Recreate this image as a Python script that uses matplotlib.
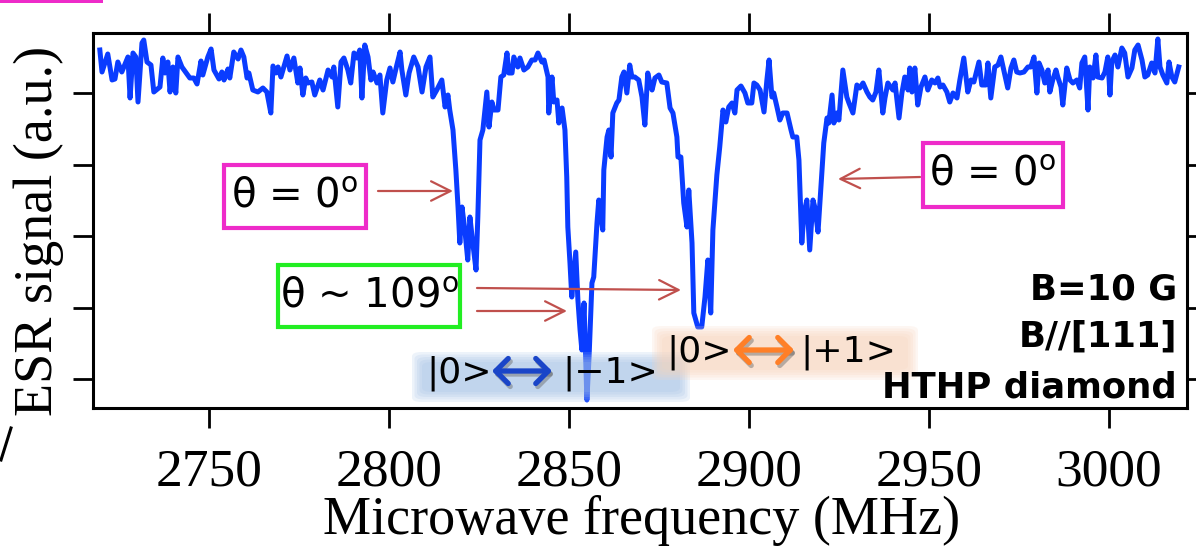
import matplotlib
matplotlib.use("Agg")
import matplotlib.pyplot as plt
from matplotlib.patches import Rectangle, FancyArrowPatch, FancyBboxPatch
from matplotlib.lines import Line2D

# ---------------- data ----------------
freq_mhz = [
    2719.7, 2720.3, 2721.9, 2723.1, 2723.9, 2724.7, 2725.8, 2727.5, 2728.1, 2728.9,
    2729.7, 2730.3, 2731.4, 2731.9, 2732.8, 2733.9, 2734.7, 2736.4, 2737.2, 2737.8,
    2738.6, 2739.2, 2740.0, 2740.8, 2741.4, 2742.5, 2744.7, 2745.8, 2746.7, 2747.8,
    2748.3, 2749.7, 2750.6, 2751.4, 2752.8, 2753.6, 2754.2, 2755.3, 2755.8, 2756.9,
    2758.1, 2758.9, 2759.7, 2760.6, 2761.1, 2762.2, 2763.6, 2765.0, 2766.1, 2767.2,
    2767.8, 2768.6, 2769.2, 2770.0, 2771.7, 2772.5, 2773.6, 2774.7, 2775.3, 2776.1,
    2776.9, 2777.5, 2778.6, 2779.4,
    2780.8, 2781.7, 2783.1, 2784.2, 2784.7, 2785.8, 2786.7, 2787.5, 2788.6, 2789.4,
    2790.3, 2791.1, 2791.9, 2792.5, 2793.3, 2794.2, 2795.0, 2795.6, 2796.7, 2797.5,
    2798.3, 2799.4, 2800.3, 2801.1, 2802.2, 2803.1, 2803.6, 2804.7, 2805.6, 2806.9,
    2808.1, 2809.2, 2810.3, 2811.4, 2812.2, 2813.3, 2814.7, 2815.6, 2816.4, 2816.9,
    2817.8, 2818.6, 2819.2, 2819.7, 2820.3, 2821.1, 2821.9, 2822.5, 2823.3, 2824.2,
    2824.7, 2825.3, 2826.1, 2827.2, 2827.8, 2828.6, 2829.2, 2830.3, 2831.1, 2831.9,
    2832.8, 2833.3, 2834.2, 2834.7, 2835.8, 2836.4, 2837.5, 2838.6, 2839.7,
    2840.6, 2841.4, 2842.5, 2843.1, 2844.2, 2844.4, 2845.3, 2845.8, 2846.7, 2847.2,
    2848.1, 2848.9, 2849.4, 2849.7, 2850.3, 2850.8, 2851.9, 2852.5, 2853.1, 2853.6,
    2854.2, 2855.0, 2855.6, 2856.4, 2856.9, 2857.8, 2858.3, 2859.4, 2859.7, 2860.6,
    2861.1, 2861.7, 2862.2, 2863.3, 2863.9, 2864.7, 2865.3, 2866.1, 2866.9, 2867.5,
    2868.3, 2869.4, 2870.3, 2871.1, 2871.9, 2872.5, 2873.1, 2873.9, 2875.0, 2875.8,
    2877.2, 2878.1, 2878.9, 2880.0, 2880.3, 2881.1, 2881.9, 2882.8, 2883.3, 2884.2,
    2884.7, 2885.8, 2886.9, 2887.8, 2888.6, 2889.4, 2890.0, 2891.1, 2891.9, 2892.8,
    2893.6, 2894.4, 2895.3, 2896.1, 2896.7, 2897.8, 2898.9, 2899.7, 2900.8, 2901.4,
    2902.2, 2903.1, 2904.2, 2905.0, 2905.6, 2906.4, 2906.9, 2907.8, 2908.6, 2909.4,
    2910.6, 2911.7, 2912.2, 2913.3, 2913.9, 2914.7, 2915.3, 2916.1, 2916.9, 2917.8,
    2918.3, 2919.2, 2920.0, 2920.8, 2921.7, 2922.2, 2923.1, 2923.6, 2924.4, 2925.0,
    2926.1, 2927.2, 2927.8, 2928.9, 2930.0, 2930.8, 2931.7, 2932.8, 2933.6, 2934.4,
    2935.3, 2936.1, 2937.2, 2937.8, 2938.6, 2940.0, 2940.6, 2941.7, 2942.5, 2943.3,
    2944.2, 2944.7, 2945.3, 2946.1, 2946.9, 2947.8, 2948.9, 2949.7, 2950.8, 2951.7,
    2952.5, 2953.1, 2953.9, 2955.0, 2955.8, 2956.7, 2957.8, 2958.6, 2959.7, 2960.8,
    2961.7, 2962.5,
    2963.9, 2964.7, 2965.8, 2966.4, 2967.2, 2968.3, 2969.2, 2970.0, 2970.8, 2971.9,
    2972.8, 2973.6, 2974.4, 2975.3, 2976.4, 2977.5, 2978.3, 2979.2, 2980.0, 2980.6,
    2981.4, 2982.2, 2983.1, 2983.6, 2984.4, 2985.3, 2985.8, 2986.7, 2987.2, 2988.3,
    2989.2, 2990.0, 2991.1, 2991.9, 2992.5, 2993.3, 2994.2, 2994.7, 2995.6, 2996.4,
    2996.9, 2998.1, 2998.9, 2999.7, 3000.3, 3000.8, 3001.7, 3002.5, 3003.6, 3004.4,
    3005.3, 3006.4, 3007.2, 3008.1, 3009.2, 3010.0, 3010.8, 3011.9, 3012.8, 3013.6,
    3014.2, 3015.0, 3016.1, 3016.7, 3017.5, 3018.3, 3019.4,
]

esr_signal = [
    36.0, 33.8, 35.6, 33.0, 33.1, 34.8, 33.8, 35.3, 31.2, 35.7,
    35.3, 30.8, 36.7, 37.0, 34.8, 34.5, 31.8, 32.3, 35.2, 33.7,
    34.8, 31.8, 34.3, 31.7, 35.3, 34.3, 33.2, 33.2, 32.6, 34.9,
    33.5, 35.3, 36.1, 34.0, 33.1, 33.8, 33.0, 34.1, 33.2, 35.8,
    35.1, 36.0, 35.3, 33.2, 33.7, 32.0, 31.8, 32.2, 31.8, 29.7,
    34.4, 33.7, 34.3, 33.3, 35.4, 34.0, 35.2, 32.7, 34.2, 31.5,
    33.2, 32.7, 32.8, 31.5,
    33.0, 32.0, 34.0, 33.3, 34.3, 30.3, 34.8, 35.2, 34.0, 32.7,
    35.7, 35.2, 36.0, 31.2, 36.5, 35.3, 33.0, 33.8, 32.7, 33.5,
    29.7, 33.0, 34.2, 32.8, 34.5, 35.8, 34.0, 31.5, 33.7, 35.3,
    34.3, 31.8, 34.3, 35.3, 31.3, 32.0, 33.0, 30.3, 31.5, 30.0,
    28.0, 24.0, 20.3, 16.7, 20.3, 18.0, 15.0, 19.3, 16.7, 14.0,
    19.3, 27.0, 28.0, 31.8, 28.3, 30.8, 30.0, 30.0, 33.3, 33.5,
    35.7, 33.7, 33.7, 35.3, 34.3, 35.2, 34.0, 34.3, 35.0,
    35.0, 35.7, 34.8, 35.0, 33.3, 29.7, 33.3, 30.8, 31.0, 28.7,
    30.2, 28.0, 23.3, 18.3, 14.7, 11.3, 15.8, 11.0, 8.0, 6.0,
    10.7, 1.0, 5.3, 12.7, 13.3, 18.7, 21.0, 18.0, 24.0, 27.3,
    28.0, 25.3, 29.7, 30.7, 31.0, 33.3, 33.8, 31.7, 34.5, 33.3,
    33.3, 33.0, 31.3, 28.5, 33.7, 32.7, 32.0, 33.2, 33.5, 32.8,
    32.7, 30.2, 29.7, 27.3, 25.3, 25.3, 20.7, 18.3, 22.0, 16.7,
    9.7, 8.3, 8.3, 11.3, 15.0, 9.7, 18.0, 23.5, 26.3, 30.0,
    28.8, 30.3, 30.7, 29.7, 32.0, 32.4, 31.7, 30.7, 30.7, 32.7,
    32.5, 32.0, 29.8, 33.0, 35.0, 31.3, 31.7, 30.3, 29.0, 29.7,
    29.7, 28.0, 27.3, 27.3, 25.0, 16.7, 19.7, 21.0, 16.0, 21.0,
    20.3, 17.8, 22.3, 26.7, 29.2, 28.7, 31.5, 28.7, 29.7, 29.0,
    34.0, 31.3, 30.7, 29.7, 32.5, 32.2, 32.7, 31.8, 31.3, 31.0,
    31.8, 34.0, 29.7, 31.2, 32.7, 32.0, 32.7, 29.2, 31.7, 33.3,
    32.0, 34.2, 31.8, 34.2, 30.5, 32.3, 33.3, 32.0, 33.0, 32.7,
    33.2, 32.3, 32.5, 31.8, 30.8, 31.7, 31.2, 33.0, 35.2, 31.8,
    33.0, 32.8,
    34.8, 32.5, 32.5, 34.7, 31.2, 34.3, 34.5, 35.3, 34.0, 32.2,
    34.2, 35.0, 33.8, 33.7, 33.8, 34.3, 34.3, 35.3, 31.7, 34.7,
    34.0, 32.7, 34.0, 31.8, 33.0, 34.0, 33.3, 32.3, 30.5, 34.2,
    33.0, 32.7, 33.0, 32.2, 34.7, 35.3, 30.0, 34.3, 33.2, 35.5,
    33.3, 33.2, 33.8, 35.3, 31.5, 34.8, 35.5, 34.3, 36.2, 35.7,
    33.3, 34.2, 36.0, 36.5, 35.0, 33.3, 33.5, 34.7, 33.7, 37.1,
    34.3, 33.5, 32.7, 34.8, 33.3, 32.8, 34.3,
]

x_ticks = [2750, 2800, 2850, 2900, 2950, 3000]
y_ticks = [3.1, 10.25, 17.4, 24.55, 31.7]
x_range = (2717.8, 3021.7)
y_range = (0.2, 37.7)

# ---------------- figure ----------------
W, H = 1196, 547
plt.rcParams['font.family'] = ['Liberation Serif', 'DejaVu Serif']
plt.rcParams['mathtext.fontset'] = 'dejavusans'

fig = plt.figure(figsize=(W / 100, H / 100), dpi=100)
ax = fig.add_axes([93 / W, 1 - 408 / H, 1094 / W, 375 / H])
ax.plot(freq_mhz, esr_signal, color='#0A3CFF', lw=3.6,
        solid_joinstyle='round', zorder=2)
ax.set_xlim(*x_range)
ax.set_ylim(*y_range)
ax.set_xticks(x_ticks)
ax.set_yticks(y_ticks)
ax.set_yticklabels([])
ax.tick_params(axis='both', which='major', direction='out', length=14.4,
               width=2.0, top=True, right=True, labelsize=38.5, pad=15)
for s in ax.spines.values():
    s.set_linewidth(2.2)

ax.set_xlabel('Microwave frequency (MHz)', fontsize=39, va='center')
ax.xaxis.set_label_coords(0.501, -0.30)
ax.set_ylabel('ESR signal (a.u.)', fontsize=39, va='center')
ax.yaxis.set_label_coords(-0.0494, 0.472)


def fp(x, y):
    return (x / W, 1 - y / H)


SANS = ['DejaVu Sans']


def frame(x0, y0, x1, y1, color):
    fig.add_artist(Rectangle(fp(x0, y1), (x1 - x0) / W, (y1 - y0) / H,
                             transform=fig.transFigure, facecolor='white',
                             edgecolor=color, lw=3, zorder=4))


def arrow(x0, y0, x1, y1):
    fig.add_artist(FancyArrowPatch(fp(x0, y0), fp(x1, y1), transform=fig.transFigure,
                                   arrowstyle='->,head_length=1.0,head_width=0.5',
                                   mutation_scale=14, color='#C0504D', lw=1.6,
                                   shrinkA=0, shrinkB=0, zorder=4))


def soft_box(x0, y0, x1, y1, color):
    for i in range(5):
        d = i * 2.5
        fig.add_artist(FancyBboxPatch(fp(x0 + d, y1 - d), (x1 - x0 - 2 * d) / W,
                                      (y1 - y0 - 2 * d) / H,
                                      boxstyle='round,pad=0,rounding_size=0.008',
                                      transform=fig.transFigure, facecolor=color,
                                      edgecolor='none', alpha=0.19, zorder=3))


def dbl_arrow(x0, x1, y, color):
    fig.add_artist(FancyArrowPatch(fp(x0 + 2, y + 3), fp(x1 + 2, y + 3),
                                   transform=fig.transFigure,
                                   arrowstyle='<->,head_length=0.9,head_width=0.9',
                                   mutation_scale=10, color='#666666', alpha=0.45,
                                   lw=3.8, shrinkA=0, shrinkB=0, zorder=4))
    fig.add_artist(FancyArrowPatch(fp(x0, y), fp(x1, y), transform=fig.transFigure,
                                   arrowstyle='<->,head_length=0.9,head_width=0.9',
                                   mutation_scale=10, color=color, lw=3.8,
                                   shrinkA=0, shrinkB=0, zorder=5))


MAGENTA = '#EE2BC9'
GREEN = '#22EE22'
THETA0 = r'θ = 0$^{\mathrm{o}}$'

# theta = 0 boxes
frame(224, 165, 366, 228, MAGENTA)
fig.text(*fp(295, 197), THETA0, ha='center', va='center', fontsize=29,
         family=SANS, zorder=5)
arrow(378, 191, 453, 191)

frame(923, 143, 1063, 207, MAGENTA)
fig.text(*fp(993, 175), THETA0, ha='center', va='center', fontsize=29,
         family=SANS, zorder=5)
arrow(920, 177, 838, 179)

# theta ~ 109 box
frame(278, 265, 460, 327, GREEN)
fig.text(*fp(369, 296), r'θ ~ 109$^{\mathrm{o}}$', ha='center', va='center',
         fontsize=29, family=SANS, zorder=5)
arrow(477, 288, 681, 290)
arrow(477, 311, 567, 311)

# transition labels
soft_box(412, 352, 690, 402, '#A3C0E5')
fig.text(*fp(459, 373), '|0>', ha='center', va='center', fontsize=26,
         family=SANS, zorder=6)
dbl_arrow(492, 552, 371, '#1A45C8')
fig.text(*fp(610, 373), '|\u22121>', ha='center', va='center', fontsize=26,
         family=SANS, zorder=6)

soft_box(652, 326, 918, 380, '#F9D4BB')
fig.text(*fp(699, 352), '|0>', ha='center', va='center', fontsize=26,
         family=SANS, zorder=6)
dbl_arrow(733, 794, 350, '#FF7F27')
fig.text(*fp(848, 352), '|+1>', ha='center', va='center', fontsize=26,
         family=SANS, zorder=6)

# sample description
for txt, yb in [('B=10 G', 300), ('B//[111]', 347), ('HTHP diamond', 398)]:
    fig.text(*fp(1177, yb), txt, ha='right', va='baseline', fontsize=25.5,
             fontweight='bold', family=SANS, zorder=6)

# cropped fragments at the picture edges
fig.add_artist(Rectangle(fp(0, 3), 103 / W, 3 / H, transform=fig.transFigure,
                         facecolor=MAGENTA, edgecolor='none', zorder=6))
fig.add_artist(Line2D([11 / W, 1 / W], [1 - 428 / H, 1 - 460 / H],
                      transform=fig.transFigure, color='black', lw=2.2))

fig.savefig('out.png', dpi=100)
